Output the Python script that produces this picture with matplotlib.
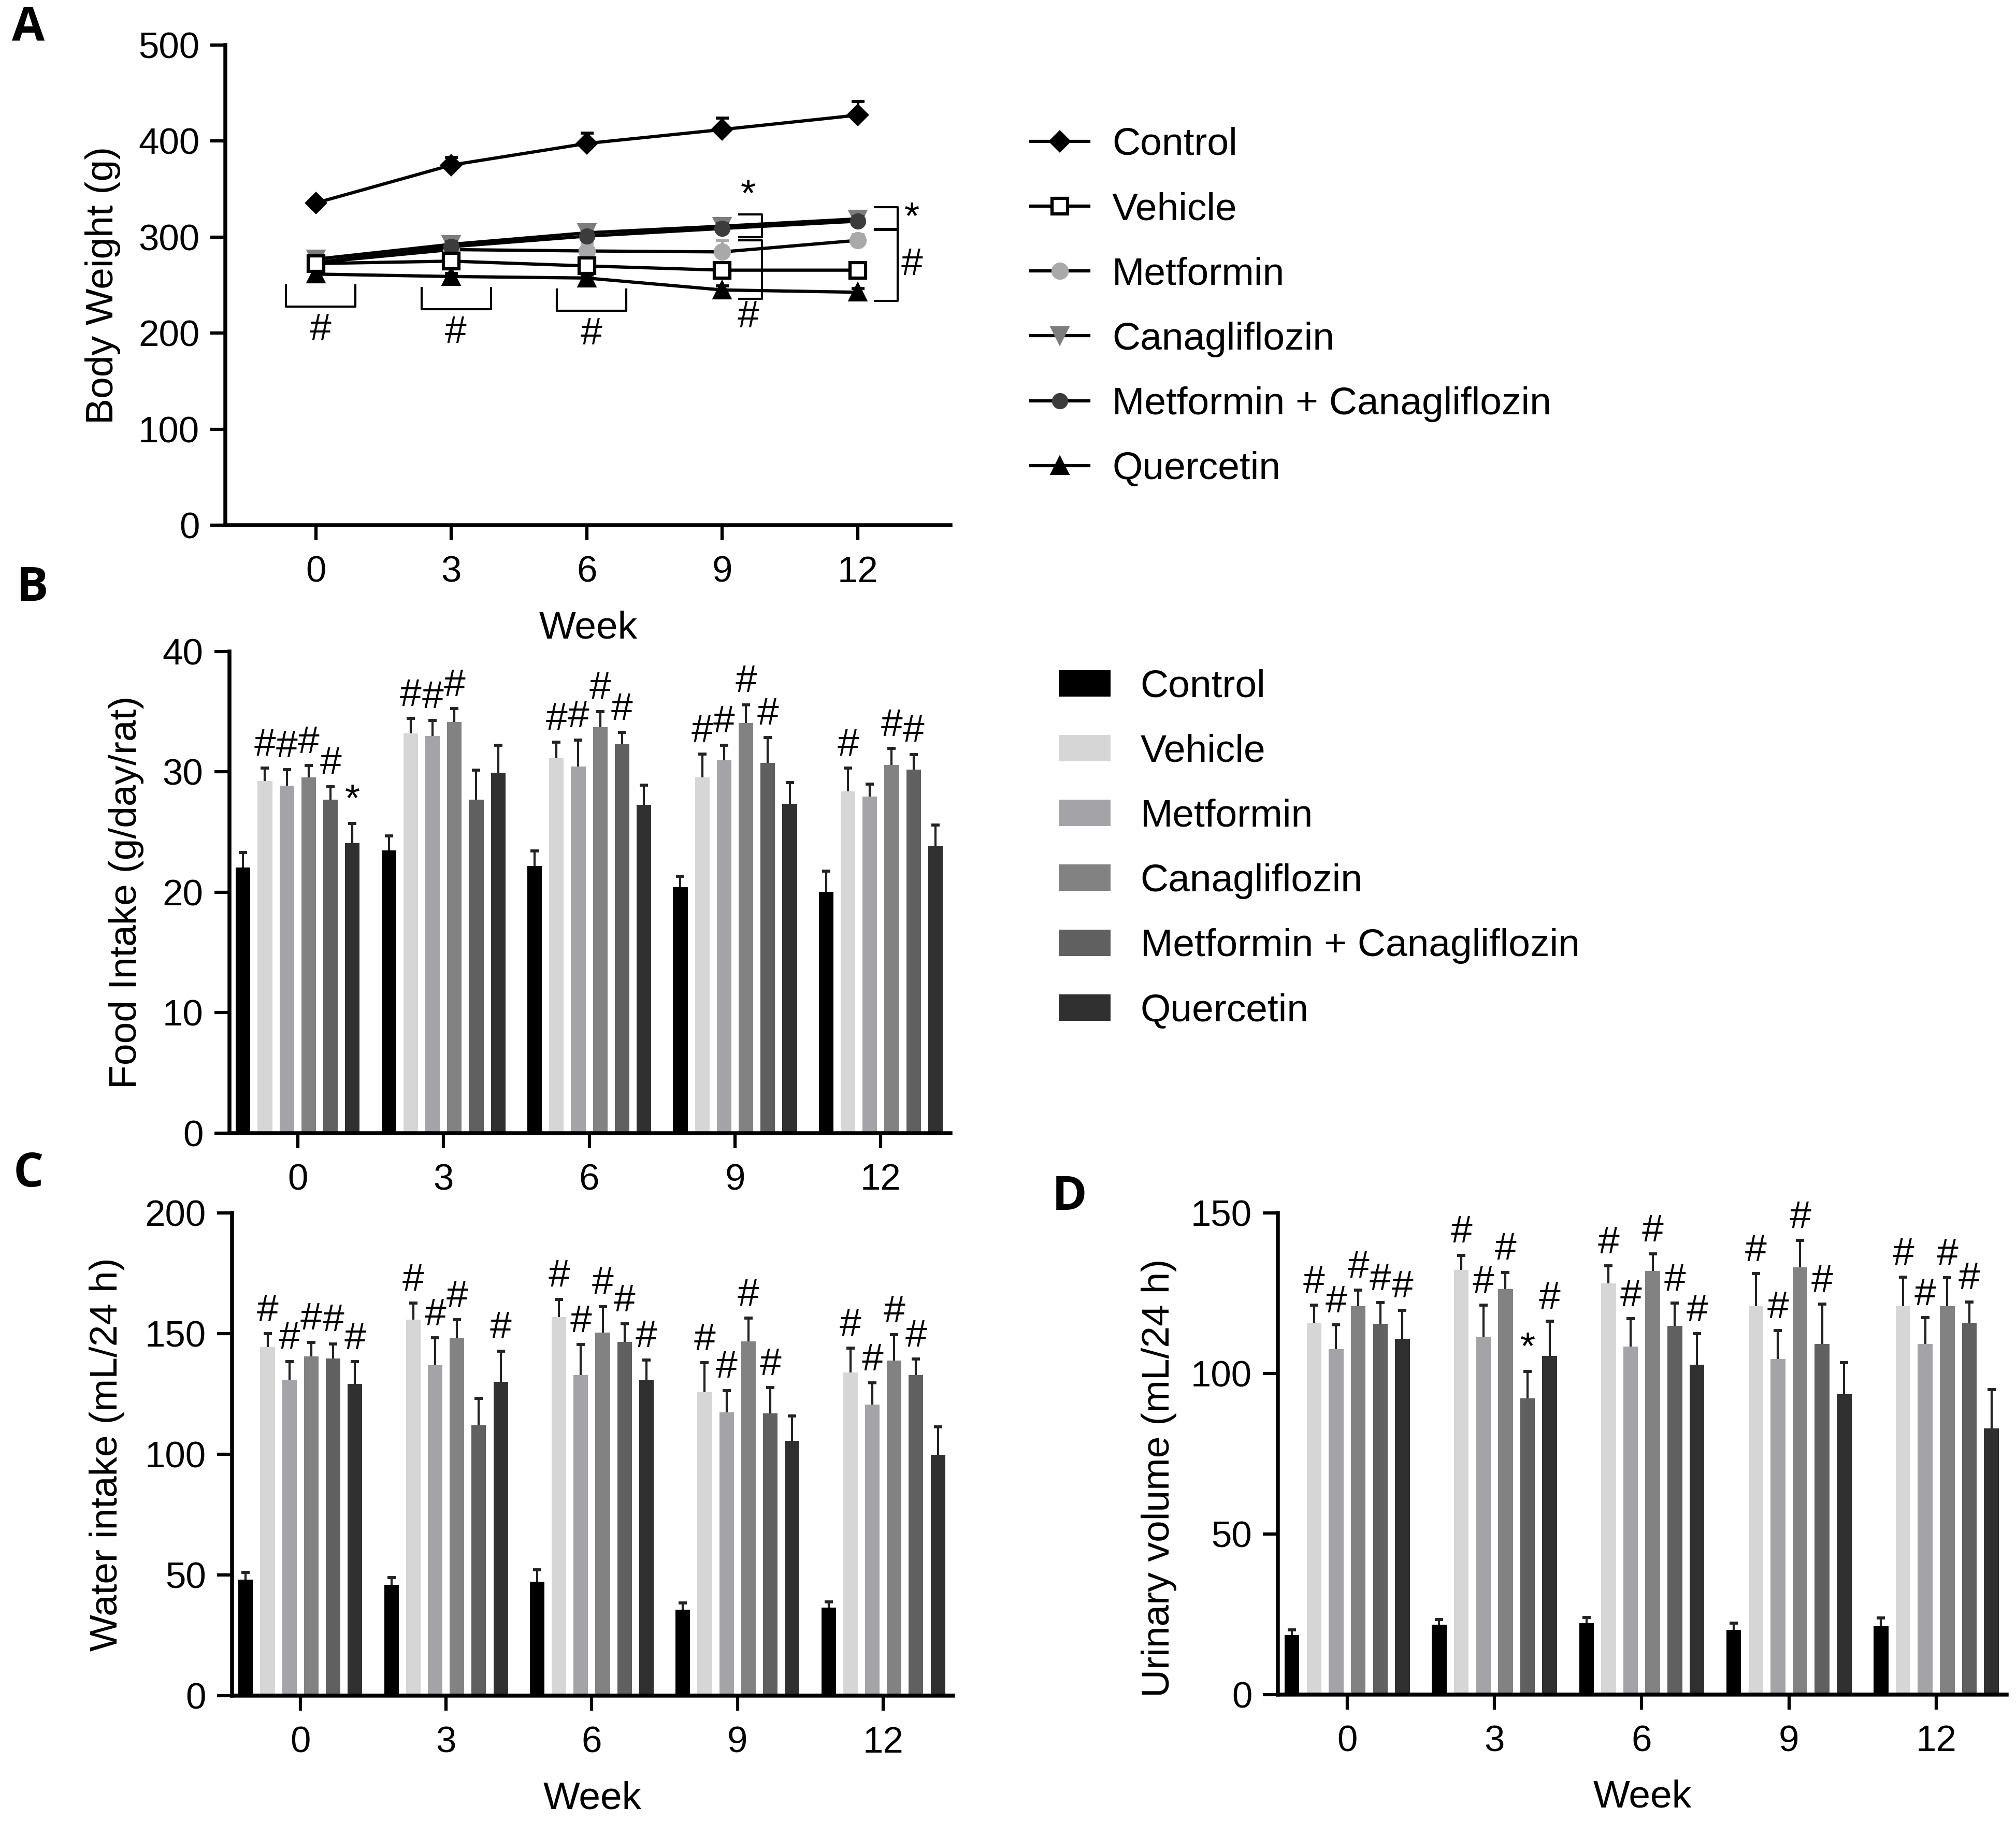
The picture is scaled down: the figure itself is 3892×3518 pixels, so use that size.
import numpy as np
import matplotlib
matplotlib.use('Agg')
import matplotlib.pyplot as plt

plt.rcParams['font.family'] = ['Liberation Sans', 'DejaVu Sans']

groups = ['Control', 'Vehicle', 'Metformin', 'Canagliflozin',
          'Metformin + Canagliflozin', 'Quercetin']
weeks = [0, 3, 6, 9, 12]

# A - body weight (g), mean and upper SD
bw_control = [335.5, 375, 397.5, 412, 427]
bw_control_err = [4, 8, 11, 12, 14]
bw_vehicle = [272.5, 275, 270, 265.6, 265.6]
bw_vehicle_err = [4, 5, 5, 5, 4]
bw_metformin = [273.5, 287, 285.6, 284.6, 296.6]
bw_metformin_err = [4, 6, 8, 12, 6]
bw_cana = [277, 292.5, 304.5, 311.4, 319]
bw_cana_err = [4, 5, 7, 6, 7]
bw_mc = [273.5, 290, 301, 309, 316.6]
bw_mc_err = [4, 5, 5, 5, 5]
bw_quer = [261.5, 259, 257.4, 245, 242.6]
bw_quer_err = [3, 3, 3, 4, 4]

# B - food intake (g/day/rat)
food_control = [22.06, 23.49, 22.2, 20.44, 20.05]
food_control_err = [1.24, 1.21, 1.26, 0.88, 1.71]
food_vehicle = [29.23, 33.21, 31.15, 29.53, 28.38]
food_vehicle_err = [1.10, 1.24, 1.32, 1.95, 1.95]
food_metformin = [28.87, 32.99, 30.47, 30.96, 27.94]
food_metformin_err = [1.32, 1.27, 2.19, 1.27, 1.07]
food_cana = [29.53, 34.15, 33.74, 34.07, 30.58]
food_cana_err = [0.99, 1.10, 1.29, 1.51, 1.37]
food_mc = [27.69, 27.69, 32.28, 30.74, 30.19]
food_mc_err = [1.10, 2.47, 0.99, 2.14, 1.27]
food_quer = [24.09, 29.95, 27.28, 27.36, 23.85]
food_quer_err = [1.62, 2.28, 1.62, 1.76, 1.75]
food_sig = [['', '', '', '', ''],
            ['#', '#', '#', '#', '#'],
            ['#', '#', '#', '#', ''],
            ['#', '#', '#', '#', '#'],
            ['#', '', '#', '#', '#'],
            ['*', '', '', '', '']]

# C - water intake (mL/24 h)
water_control = [48.0, 46.0, 47.3, 35.7, 36.6]
water_control_err = [3.2, 3.0, 4.8, 2.7, 2.2]
water_vehicle = [144.4, 155.8, 156.9, 125.7, 133.9]
water_vehicle_err = [5.5, 6.8, 7.3, 12.3, 10.1]
water_metformin = [130.9, 137.0, 132.8, 117.4, 120.7]
water_metformin_err = [7.6, 11.3, 12.7, 9.1, 8.9]
water_cana = [140.6, 148.3, 150.5, 146.8, 138.8]
water_cana_err = [5.8, 7.5, 10.7, 9.6, 10.7]
water_mc = [139.8, 112.1, 146.5, 117.0, 132.9]
water_mc_err = [6.0, 11.1, 7.5, 10.7, 6.6]
water_quer = [129.1, 130.0, 130.7, 105.5, 99.9]
water_quer_err = [9.3, 12.8, 8.4, 10.3, 11.5]
water_sig = [['', '', '', '', ''],
             ['#', '#', '#', '#', '#'],
             ['#', '#', '#', '#', '#'],
             ['#', '#', '#', '#', '#'],
             ['#', '', '#', '#', '#'],
             ['#', '#', '#', '', '']]

# D - urinary volume (mL/24 h)
urine_control = [18.5, 21.8, 22.3, 20.1, 21.3]
urine_control_err = [1.6, 1.6, 1.7, 2.2, 2.5]
urine_vehicle = [115.7, 132.3, 128.0, 121.0, 121.0]
urine_vehicle_err = [5.6, 4.5, 5.5, 10.1, 9.0]
urine_metformin = [107.5, 111.4, 108.3, 104.5, 109.1]
urine_metformin_err = [7.6, 9.8, 8.8, 8.9, 8.3]
urine_cana = [121.0, 126.3, 131.9, 133.1, 121.0]
urine_cana_err = [4.9, 5.2, 5.3, 8.3, 8.8]
urine_mc = [115.4, 92.2, 114.9, 109.2, 115.7]
urine_mc_err = [6.6, 8.4, 7.0, 12.4, 6.6]
urine_quer = [110.8, 105.4, 102.8, 93.5, 82.9]
urine_quer_err = [8.9, 10.9, 9.6, 9.9, 12.0]
urine_sig = [['', '', '', '', ''],
             ['#', '#', '#', '#', '#'],
             ['#', '#', '#', '#', '#'],
             ['#', '#', '#', '#', '#'],
             ['#', '*', '#', '#', '#'],
             ['#', '#', '#', '', '']]

bar_colors = ['#000000', '#d6d6d6', '#a4a4a8', '#828282', '#606060', '#303030']

TICK_FS = 17
LABEL_FS = 18
SIG_FS = 18


def style(ax):
    for s in ['top', 'right']:
        ax.spines[s].set_visible(False)
    for s in ['left', 'bottom']:
        ax.spines[s].set_linewidth(1.8)
    ax.tick_params(direction='out', length=7, width=1.5, labelsize=TICK_FS)
    ax.tick_params(axis='y', pad=5)
    ax.tick_params(axis='x', pad=7)


def upper_err(ax, x, y, e, color, lw=1.0, ms=4, zorder=3):
    y = np.asarray(y, float)
    e = np.asarray(e, float)
    ax.vlines(x, y, y + e, colors=color, lw=lw, zorder=zorder)
    ax.plot(x, y + e, ls='none', marker='_', ms=ms, mew=1.4, color=color, zorder=zorder)


fig = plt.figure(figsize=(3892 / 300, 3518 / 300), dpi=300)

# ---------------- A ----------------
axA = fig.add_axes([0.1118, 0.7117, 0.3598, 0.2636])
style(axA)
line_specs = [
    (bw_control, bw_control_err, dict(marker='D', ms=6.5, mfc='black', mec='black'), 'black'),
    (bw_vehicle, bw_vehicle_err, dict(marker='s', ms=7, mfc='white', mec='black', mew=1.5), 'black'),
    (bw_metformin, bw_metformin_err, dict(marker='o', ms=7, mfc='#a9a9ab', mec='#a9a9ab'), '#a9a9ab'),
    (bw_cana, bw_cana_err, dict(marker='v', ms=7.5, mfc='#7d7d7d', mec='#7d7d7d'), '#7d7d7d'),
    (bw_mc, bw_mc_err, dict(marker='o', ms=6.5, mfc='#3c3c3c', mec='#3c3c3c'), '#3c3c3c'),
    (bw_quer, bw_quer_err, dict(marker='^', ms=7.5, mfc='black', mec='black'), 'black'),
]
z_order = [4, 9, 5, 6, 7, 8]
for i, (vals, err, mk, ecol) in enumerate(line_specs):
    upper_err(axA, weeks, vals, err, ecol, lw=1.2, ms=6, zorder=z_order[i] - 0.5)
    axA.plot(weeks, vals, color='black', lw=1.5, label=groups[i], zorder=z_order[i], **mk)

axA.set_xlim(-2, 14.06)
axA.set_ylim(0, 500)
axA.set_xticks(weeks)
axA.set_yticks([0, 100, 200, 300, 400, 500])
axA.set_xlabel('Week', fontsize=LABEL_FS)
axA.set_ylabel('Body Weight (g)', fontsize=LABEL_FS)
axA.xaxis.set_label_coords(0.5, -0.214)
axA.xaxis.label.set_va('center')
axA.yaxis.set_label_coords(-0.169, 0.5)
axA.yaxis.label.set_va('center')

bw_all = np.array([bw_control, bw_vehicle, bw_metformin, bw_cana, bw_mc, bw_quer])

# brackets below treated groups at weeks 0, 3, 6
for k in [0, 1, 2]:
    w = weeks[k]
    low = bw_all[1:, k].min() - 34
    axA.plot([w - 0.66, w - 0.66, w + 0.88, w + 0.88], [low + 22, low, low, low + 22],
             color='black', lw=1.0, zorder=2)
    axA.text(w + 0.1, low - 6, '#', ha='center', va='top', fontsize=SIG_FS)

# right-hand brackets at weeks 9 and 12
bracket_specs = [
    (3, [3, 4], '*', 'top'),
    (3, [5, 2], '#', 'bottom'),
    (4, [3, 4], '*', 'right'),
    (4, [5, 2], '#', 'right'),
]
for k, idx, mark, where in bracket_specs:
    w = weeks[k]
    lo = bw_all[idx, k].min() - 9
    hi = bw_all[idx, k].max() + 12
    x0, x1 = w + 0.38, w + 0.88
    axA.plot([x0, x1, x1, x0], [hi, hi, lo, lo], color='black', lw=1.0, zorder=2)
    if where == 'top':
        axA.text((x0 + x1) / 2 - 0.05, hi + 1, mark, ha='center', va='bottom', fontsize=SIG_FS)
    elif where == 'bottom':
        axA.text((x0 + x1) / 2 - 0.05, lo - 1, mark, ha='center', va='top', fontsize=SIG_FS)
    else:
        axA.text(x1 + 0.32, (lo + hi) / 2, mark, ha='center', va='center', fontsize=SIG_FS)

axA.legend(loc='upper left', bbox_to_anchor=(0.5112, 0.9304), bbox_transform=fig.transFigure,
           frameon=False, fontsize=LABEL_FS, handlelength=1.5, handletextpad=0.6,
           labelspacing=0.75, borderpad=0, borderaxespad=0)

# ---------------- bar panels ----------------
bar_w = 0.10
step = 0.15


def bar_panel(ax, series, errs, sigs, ymax, yticks, ylabel, ylab_x, ylab_y=0.5):
    style(ax)
    x = np.arange(len(weeks))
    for i in range(len(series)):
        xpos = x + (i - 2.5) * step
        vals = np.asarray(series[i], float)
        err = np.asarray(errs[i], float)
        ax.bar(xpos, vals, width=bar_w, color=bar_colors[i], label=groups[i], zorder=2)
        upper_err(ax, xpos, vals, err, '#222222', lw=1.0, ms=4, zorder=3)
        for xp, v, e, s in zip(xpos, vals, err, sigs[i]):
            if s:
                ax.text(xp, v + e + 0.01 * ymax, s, ha='center', va='bottom', fontsize=SIG_FS)
    ax.set_xlim(-0.47, 4.48)
    ax.set_ylim(0, ymax)
    ax.set_xticks(x)
    ax.set_xticklabels([str(w) for w in weeks])
    ax.set_yticks(yticks)
    ax.set_xlabel('Week', fontsize=LABEL_FS)
    ax.set_ylabel(ylabel, fontsize=LABEL_FS)
    ax.xaxis.set_label_coords(0.5, -0.213)
    ax.xaxis.label.set_va('center')
    ax.yaxis.set_label_coords(ylab_x, ylab_y)
    ax.yaxis.label.set_va('center')


axB = fig.add_axes([0.1137, 0.3781, 0.3579, 0.2643])
bar_panel(axB,
          [food_control, food_vehicle, food_metformin, food_cana, food_mc, food_quer],
          [food_control_err, food_vehicle_err, food_metformin_err, food_cana_err, food_mc_err, food_quer_err],
          food_sig, 40, [0, 10, 20, 30, 40], 'Food Intake (g/day/rat)', -0.143)
axB.legend(loc='upper left', bbox_to_anchor=(0.5252, 0.6329), bbox_transform=fig.transFigure,
           frameon=False, fontsize=LABEL_FS, handlelength=1.33, handleheight=0.67,
           handletextpad=0.77, labelspacing=0.75, borderpad=0, borderaxespad=0)

axC = fig.add_axes([0.1150, 0.0693, 0.3578, 0.2650])
bar_panel(axC,
          [water_control, water_vehicle, water_metformin, water_cana, water_mc, water_quer],
          [water_control_err, water_vehicle_err, water_metformin_err, water_cana_err, water_mc_err, water_quer_err],
          water_sig, 200, [0, 50, 100, 150, 200], 'Water intake (mL/24 h)', -0.173)

axD = fig.add_axes([0.6339, 0.0700, 0.3616, 0.2643])
bar_panel(axD,
          [urine_control, urine_vehicle, urine_metformin, urine_cana, urine_mc, urine_quer],
          [urine_control_err, urine_vehicle_err, urine_metformin_err, urine_cana_err, urine_mc_err, urine_quer_err],
          urine_sig, 150, [0, 50, 100, 150], 'Urinary volume (mL/24 h)', -0.163, 0.45)

# panel letters
for letter, (px, py) in {'A': (0.0141, 0.9845), 'B': (0.0160, 0.6770),
                         'C': (0.0141, 0.3555), 'D': (0.5304, 0.3428)}.items():
    fig.text(px, py, letter, fontsize=22, fontweight='bold', ha='center', va='center',
             family=['Open Sans', 'DejaVu Sans'])

fig.savefig('out.png', dpi=300)
